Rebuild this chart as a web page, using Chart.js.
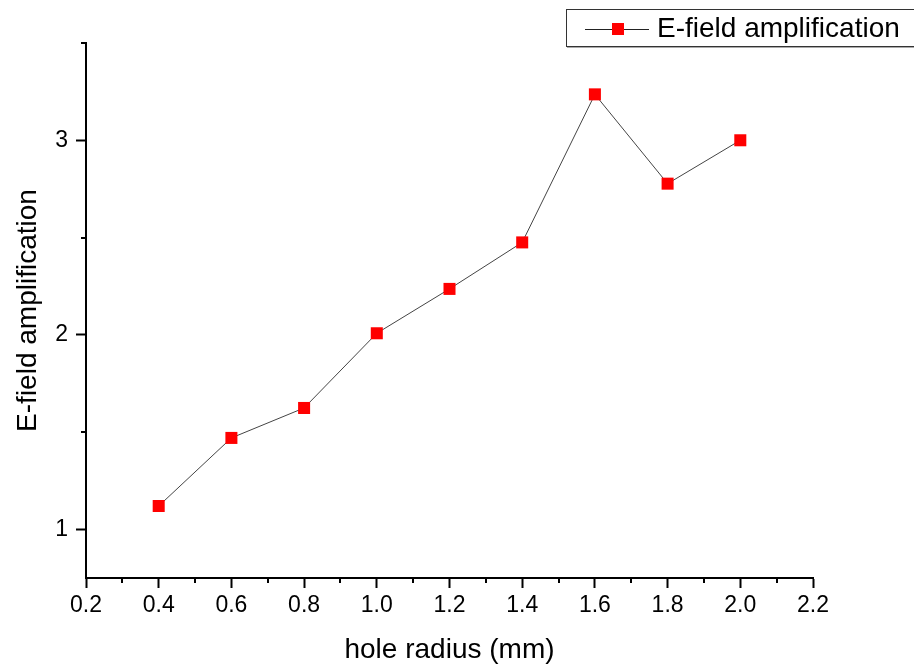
<!DOCTYPE html>
<html>
<head>
<meta charset="utf-8">
<script src="https://cdn.jsdelivr.net/npm/chart.js@4"></script>
<style>
  html, body { margin: 0; padding: 0; background: #fff; }
  #wrap { width: 914px; height: 667px; position: relative; }
</style>
</head>
<body>
<div id="wrap"><canvas id="chart"></canvas></div>
<script>
// data
const holeRadius = [0.4, 0.6, 0.8, 1.0, 1.2, 1.4, 1.6, 1.8, 2.0];
const amplification = [1.12, 1.47, 1.624, 2.008, 2.236, 2.475, 3.236, 2.777, 3.0];
const xTicks = [0.2, 0.4, 0.6, 0.8, 1.0, 1.2, 1.4, 1.6, 1.8, 2.0, 2.2];
const xMinorTicks = [0.3, 0.5, 0.7, 0.9, 1.1, 1.3, 1.5, 1.7, 1.9, 2.1];
const yTicks = [1, 2, 3];
const yMinorTicks = [1.5, 2.5, 3.5];
const seriesName = 'E-field amplification';

const FONT = '"Liberation Sans", Arial, sans-serif';

// minor ticks + legend box, drawn from the chart's own scales
const extrasPlugin = {
    id: 'extras',
    afterDraw(chart) {
        const ctx = chart.ctx;
        const xs = chart.scales.x, ys = chart.scales.y;
        ctx.save();
        ctx.strokeStyle = '#000';
        ctx.lineWidth = 2;
        xMinorTicks.forEach(v => {
            const px = Math.round(xs.getPixelForValue(v));
            ctx.beginPath();
            ctx.moveTo(px, ys.bottom);
            ctx.lineTo(px, ys.bottom + 5);
            ctx.stroke();
        });
        yMinorTicks.forEach(v => {
            const py = Math.round(ys.getPixelForValue(v));
            ctx.beginPath();
            ctx.moveTo(xs.left, py);
            ctx.lineTo(xs.left - 5, py);
            ctx.stroke();
        });

        // legend
        const bx = 566, by = 9, bw = 360, bh = 37;
        ctx.fillStyle = '#aaa';
        ctx.fillRect(bx + 1, by + 1, bw, bh + 1);
        ctx.fillStyle = '#fff';
        ctx.fillRect(bx, by, bw, bh);
        ctx.strokeStyle = '#333';
        ctx.lineWidth = 1;
        ctx.strokeRect(bx + 0.5, by + 0.5, bw, bh);
        const cy = 29;
        ctx.strokeStyle = '#222';
        ctx.beginPath();
        ctx.moveTo(585, cy + 0.5);
        ctx.lineTo(649, cy + 0.5);
        ctx.stroke();
        ctx.fillStyle = '#ff0000';
        ctx.fillRect(612, cy - 6, 12, 12);
        ctx.fillStyle = '#000';
        ctx.font = '28px ' + FONT;
        ctx.textBaseline = 'middle';
        ctx.textAlign = 'left';
        ctx.fillText(seriesName, 657, cy);
        ctx.restore();
    }
};

const ctx = document.getElementById('chart').getContext('2d');
new Chart(ctx, {
    type: 'line',
    data: {
        datasets: [{
            label: seriesName,
            data: holeRadius.map((x, i) => ({ x: x, y: amplification[i] })),
            borderColor: '#444',
            borderWidth: 1,
            backgroundColor: '#ff0000',
            pointStyle: 'rect',
            pointRadius: 8.5,
            pointBorderWidth: 0,
            pointBackgroundColor: '#ff0000',
            tension: 0
        }]
    },
    options: {
        responsive: true,
        maintainAspectRatio: false,
        animation: false,
        layout: { padding: { left: 0, right: 101, top: 43, bottom: 0 } },
        plugins: {
            legend: { display: false },
            tooltip: { enabled: false }
        },
        scales: {
            x: {
                type: 'linear',
                min: 0.2,
                max: 2.2,
                afterBuildTicks: s => { s.ticks = xTicks.map(v => ({ value: v })); },
                afterFit: s => { s.height = 89; },
                border: { display: true, color: '#000', width: 2 },
                grid: { display: true, drawOnChartArea: false, drawTicks: true, tickLength: 10, tickColor: '#000', tickWidth: 2 },
                ticks: {
                    color: '#000',
                    font: { family: FONT, size: 23 },
                    padding: 4,
                    maxRotation: 0,
                    callback: v => v.toFixed(1)
                },
                title: {
                    display: true,
                    text: 'hole radius (mm)',
                    color: '#000',
                    font: { family: FONT, size: 28 },
                    padding: { top: 0, bottom: 0 }
                }
            },
            y: {
                type: 'linear',
                min: 0.75,
                max: 3.5,
                afterBuildTicks: s => { s.ticks = yTicks.map(v => ({ value: v })); },
                afterFit: s => { s.width = 86; },
                border: { display: true, color: '#000', width: 2 },
                grid: { display: true, drawOnChartArea: false, drawTicks: true, tickLength: 10, tickColor: '#000', tickWidth: 2 },
                ticks: {
                    color: '#000',
                    font: { family: FONT, size: 23 },
                    padding: 8,
                    callback: v => String(v)
                },
                title: {
                    display: true,
                    text: 'E-field amplification',
                    color: '#000',
                    font: { family: FONT, size: 28 },
                    padding: { top: 11, bottom: 11 }
                }
            }
        }
    },
    plugins: [extrasPlugin]
});
</script>
</body>
</html>
